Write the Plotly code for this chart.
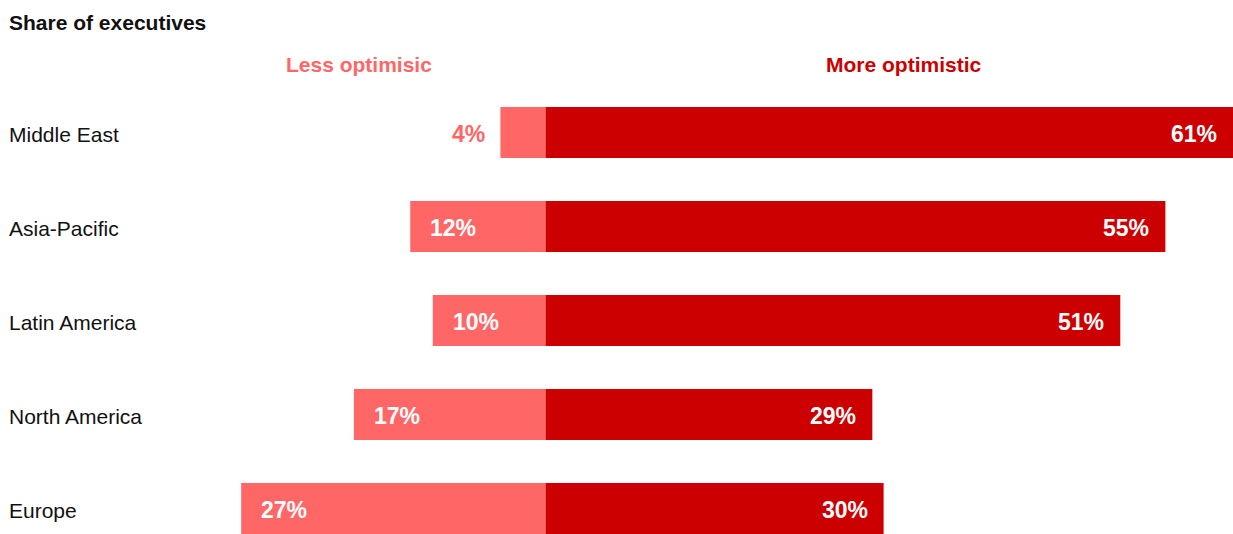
import plotly.graph_objects as go

regions = ["Middle East", "Asia-Pacific", "Latin America", "North America", "Europe"]
less_optimistic = [4, 12, 10, 17, 27]
more_optimistic = [61, 55, 51, 29, 30]

LIGHT = "#FF6666"
DARK = "#CC0000"
FONT = "Arial, Liberation Sans, sans-serif"

fig = go.Figure()
fig.add_trace(go.Bar(
    y=regions, x=[-v for v in less_optimistic], orientation="h",
    marker=dict(color=LIGHT, line=dict(width=0)), width=0.543,
    hoverinfo="skip", showlegend=False,
))
fig.add_trace(go.Bar(
    y=regions, x=more_optimistic, orientation="h",
    marker=dict(color=DARK, line=dict(width=0)), width=0.543,
    hoverinfo="skip", showlegend=False,
))

annotations = []
for r, v in zip(regions, less_optimistic):
    inside = v >= 8
    annotations.append(dict(
        x=-v, y=r, xref="x", yref="y", text=f"{v}%", showarrow=False,
        xanchor="left" if inside else "right", yanchor="middle",
        xshift=18 if inside else -13, yshift=-1,
        font=dict(family=FONT, size=23, color="white" if inside else LIGHT, weight="bold"),
    ))
for r, v in zip(regions, more_optimistic):
    annotations.append(dict(
        x=v, y=r, xref="x", yref="y", text=f"{v}%", showarrow=False,
        xanchor="right", yanchor="middle", xshift=-14, yshift=-1,
        font=dict(family=FONT, size=23, color="white", weight="bold"),
    ))
for r in regions:
    annotations.append(dict(
        x=0, y=r, xref="paper", yref="y", text=r, showarrow=False,
        xanchor="left", yanchor="middle", xshift=7, yshift=-2,
        font=dict(family=FONT, size=21, color="#111111"),
    ))

annotations.append(dict(
    x=0, y=1 + (86 - 22) / 448, xref="paper", yref="paper", text="<b>Share of executives</b>",
    showarrow=False, xanchor="left", yanchor="middle", xshift=7,
    font=dict(family=FONT, size=21, color="#111111"),
))
annotations.append(dict(
    x=359 / 1233, y=1 + (86 - 64) / 448, xref="paper", yref="paper", text="<b>Less optimisic</b>",
    showarrow=False, xanchor="center", yanchor="middle",
    font=dict(family=FONT, size=21, color=LIGHT),
))
annotations.append(dict(
    x=903.5 / 1233, y=1 + (86 - 64) / 448, xref="paper", yref="paper", text="<b>More optimistic</b>",
    showarrow=False, xanchor="center", yanchor="middle",
    font=dict(family=FONT, size=21, color=DARK),
))

fig.update_layout(
    width=1233, height=534,
    margin=dict(l=0, r=0, t=86, b=0, pad=0),
    barmode="relative",
    paper_bgcolor="white", plot_bgcolor="white",
    xaxis=dict(range=[-48.4, 61.0], visible=False, fixedrange=True),
    yaxis=dict(range=[4.271, -0.495], visible=False, fixedrange=True,
               categoryorder="array", categoryarray=regions),
    annotations=annotations,
)

fig.write_html("out.html")
